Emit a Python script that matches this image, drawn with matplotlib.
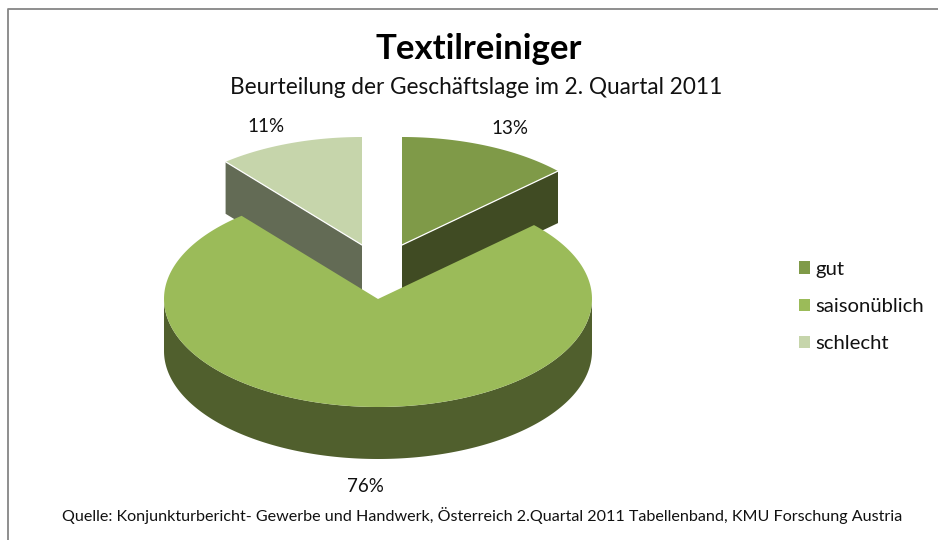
"""Exploded 3D-style pie: Textilreiniger, Geschaeftslage 2. Quartal 2011."""

import matplotlib

matplotlib.use("Agg")
import matplotlib.pyplot as plt
import numpy as np
from matplotlib.patches import Patch, Polygon

plt.rcParams["font.family"] = ["Lato", "DejaVu Sans"]

labels = ["gut", "saisonüblich", "schlecht"]
shares = [13, 76, 11]
top_colors = ["#7F9A48", "#9BBB59", "#C6D5AB"]
side_colors = ["#404B23", "#505F2D", "#636B55"]

title = "Textilreiniger"
subtitle = "Beurteilung der Geschäftslage im 2. Quartal 2011"
source = (
    "Quelle: Konjunkturbericht- Gewerbe und Handwerk, Österreich "
    "2.Quartal 2011 Tabellenband, KMU Forschung Austria"
)

RX, RY, DEPTH = 214, 108, 52
CENTERS = [(402, 245), (378, 299), (362, 245)]
LABEL_POS = [(510, 129), (365, 487), (266, 126)]


def rim(center, start, end):
    """Points on the ellipse, angles in degrees clockwise from 12 o'clock."""
    t = np.radians(np.linspace(start, end, 240))
    return np.column_stack([center[0] + RX * np.sin(t), center[1] - RY * np.cos(t)])


fig = plt.figure(figsize=(9.38, 5.4), dpi=100)
ax = fig.add_axes([0, 0, 1, 1])
ax.set_xlim(0, 938)
ax.set_ylim(540, 0)
ax.axis("off")

# chart frame: only left and top edges are inside the crop
ax.plot([7.5, 7.5, 938], [540, 8.5, 8.5], color="#868686", lw=1.3)

edges = np.cumsum([0] + shares) * 3.6
angles = list(zip(edges[:-1], edges[1:]))
down = np.array([0, DEPTH])

# back slices: cut face first, then the top face
for i in [0, 2]:
    center = np.array(CENTERS[i], dtype=float)
    a = angles[i][0] if i == 2 else angles[i][1]
    outer = rim(center, a, a)[0]
    face = [center, outer, outer + down, center + down]
    ax.add_patch(Polygon(face, fc=side_colors[i], ec="none"))
    top = np.vstack([center, rim(center, *angles[i])])
    ax.add_patch(Polygon(top, fc=top_colors[i], ec="none"))
    ax.plot([center[0], outer[0]], [center[1], outer[1]], color="white", lw=0.9)

# big front slice: outer wall, then the top face
center = np.array(CENTERS[1], dtype=float)
wall_arc = rim(center, 90, 270)
wall = np.vstack([wall_arc, (wall_arc + down)[::-1]])
ax.add_patch(Polygon(wall, fc=side_colors[1], ec="none"))
top = np.vstack([center, rim(center, *angles[1])])
ax.add_patch(Polygon(top, fc=top_colors[1], ec="none"))

for (x, y), share in zip(LABEL_POS, shares):
    ax.text(x, y, f"{share}%", ha="center", va="center", fontsize=13.5, color="#111111")

ax.text(479, 49, title, ha="center", va="center", fontsize=25, fontweight="bold", color="black")
ax.text(476.5, 87, subtitle, ha="center", va="center", fontsize=16.3, color="#111111")
ax.text(482.5, 516, source, ha="center", va="center", fontsize=11.6, color="#111111")

handles = [Patch(fc=c, ec="none") for c in top_colors]
ax.legend(
    handles,
    labels,
    loc="upper left",
    bbox_to_anchor=(791, 252.5),
    bbox_transform=ax.transData,
    frameon=False,
    fontsize=14.6,
    handlelength=0.55,
    handleheight=0.55,
    handletextpad=0.25,
    labelspacing=1.0,
    labelcolor="#111111",
    borderpad=0.4,
    borderaxespad=0,
)

fig.savefig("out.png", dpi=100)
plt.close(fig)
